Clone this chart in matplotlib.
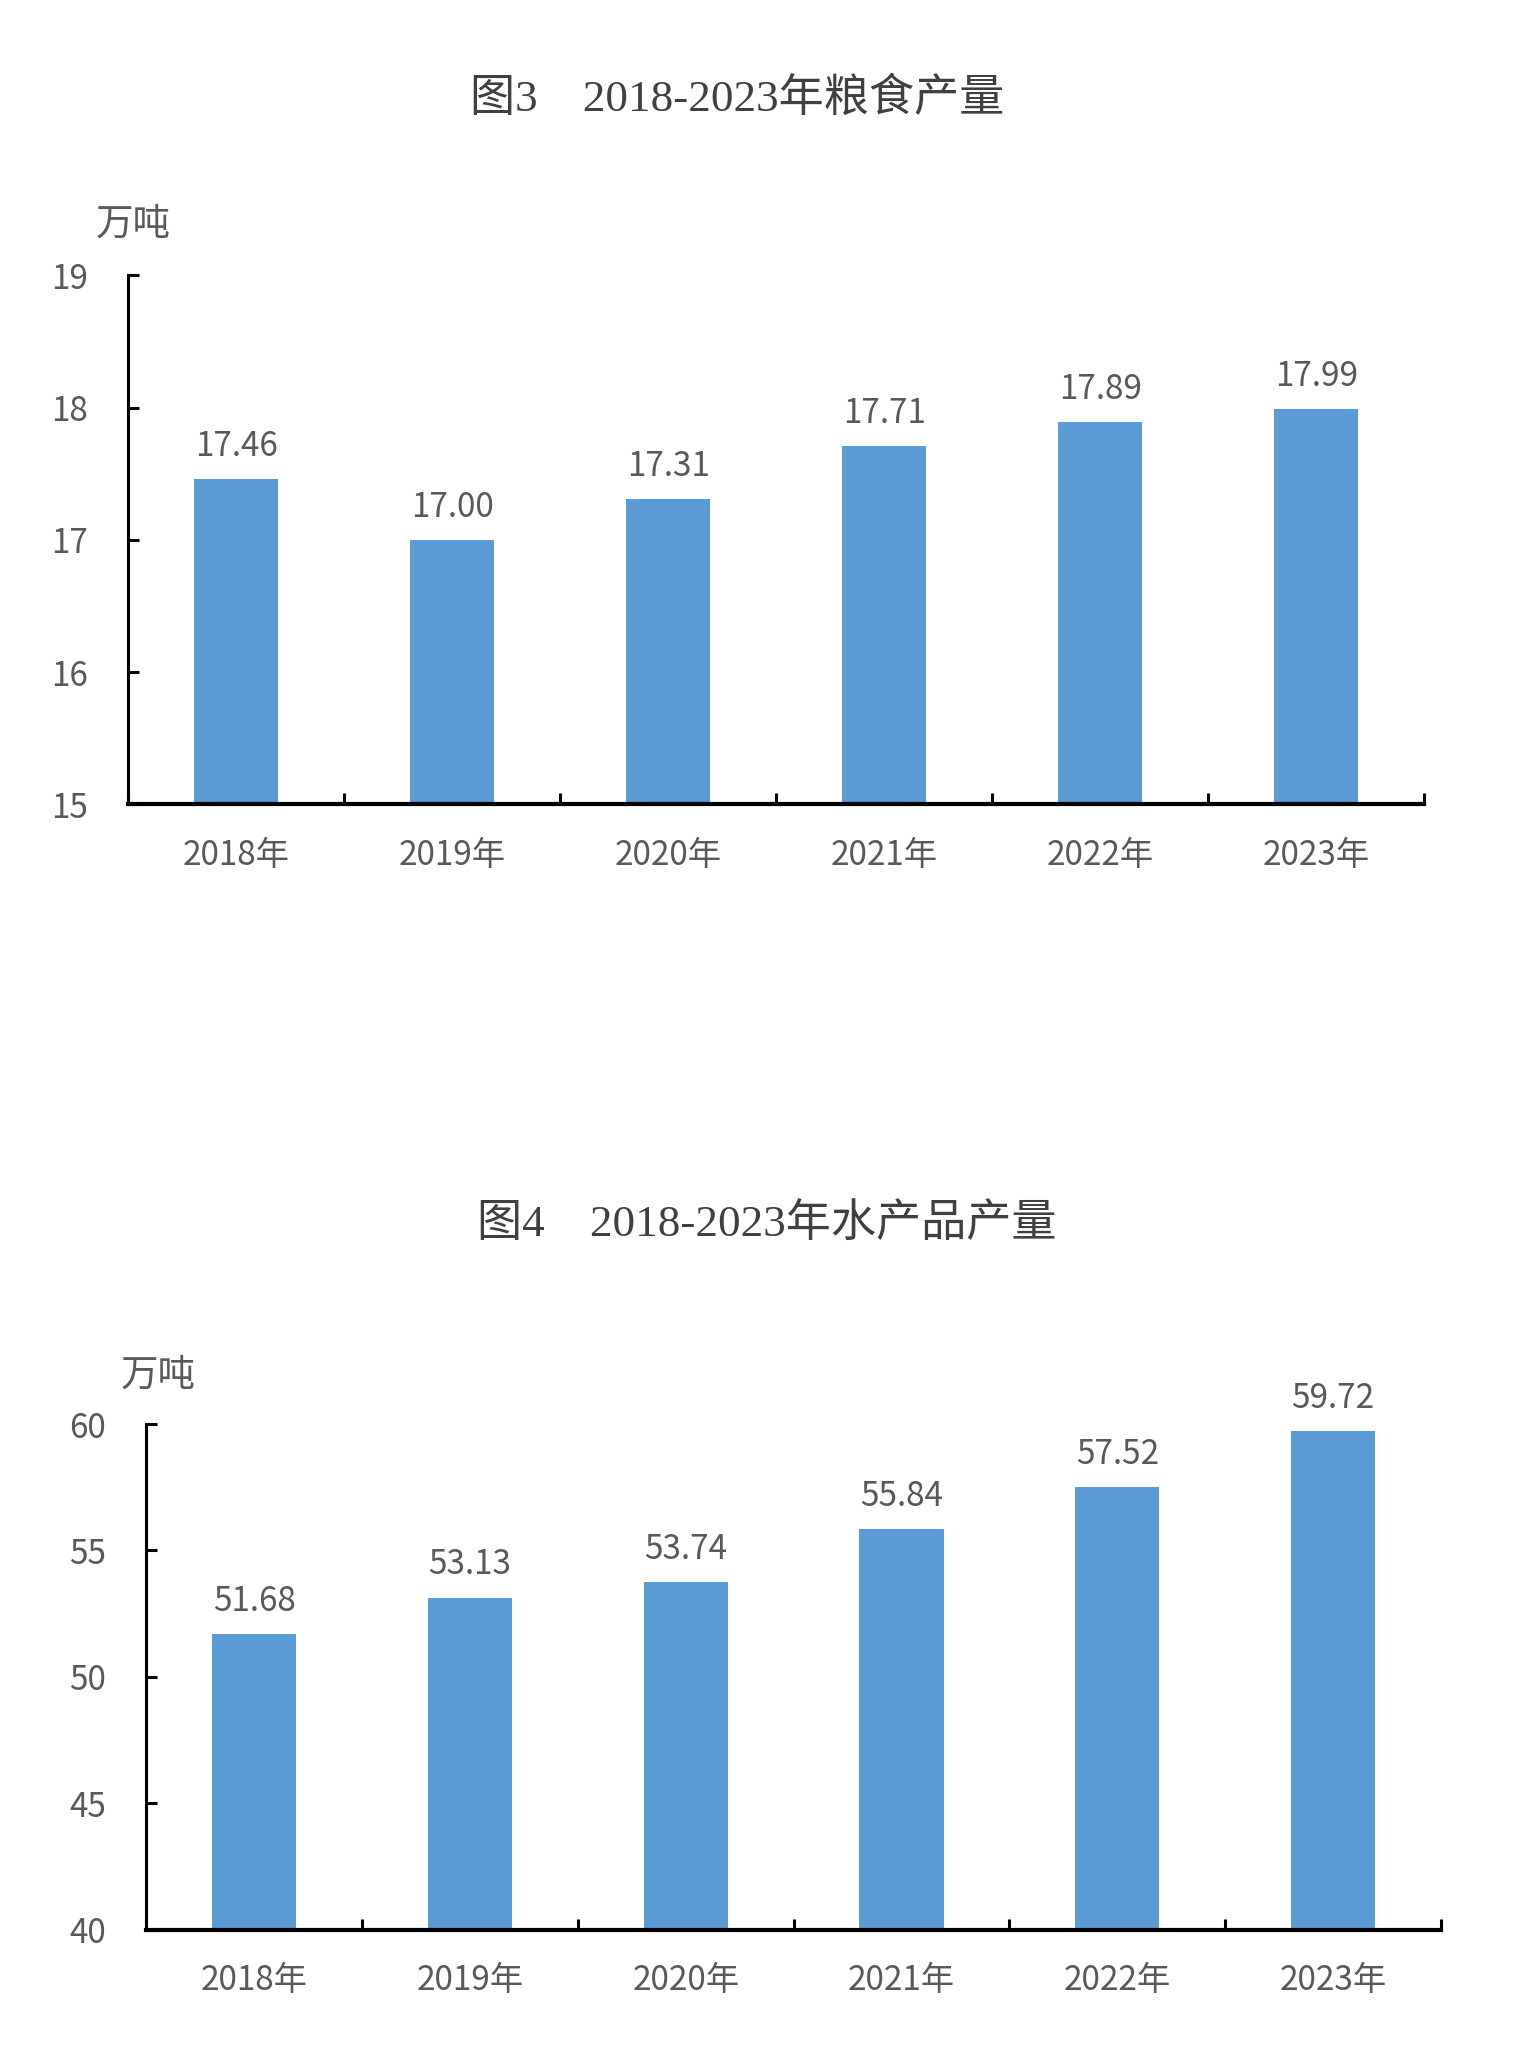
import matplotlib
matplotlib.use("Agg")
import matplotlib.pyplot as plt
import numpy as np

plt.rcParams['font.family'] = ['Noto Sans CJK SC', 'DejaVu Sans']

years = ["2018年", "2019年", "2020年", "2021年", "2022年", "2023年"]
grain = [17.46, 17.00, 17.31, 17.71, 17.89, 17.99]
aquatic = [51.68, 53.13, 53.74, 55.84, 57.52, 59.72]
title1 = "图3　2018-2023年粮食产量"
title2 = "图4　2018-2023年水产品产量"
unit = "万吨"

BAR = "#5B9BD5"
TXT = "#595959"
FS = 24

fig = plt.figure(figsize=(15.33, 20.52), dpi=100)


def draw(rect, vals, ylim, yticks, title, title_xy, unit_xy, fmt="{:.2f}"):
    ax = fig.add_axes(rect)
    x = np.arange(len(vals))
    base = ylim[0]
    ax.bar(x, np.array(vals) - base, bottom=base, width=0.39, color=BAR, zorder=2)
    ax.set_xlim(-0.5, len(vals) - 0.5)
    ax.set_ylim(*ylim)
    ax.set_yticks(yticks)
    ax.set_yticklabels([str(t) for t in yticks], fontsize=FS, color=TXT)
    ax.set_xticks(x)
    ax.set_xticklabels(years, fontsize=FS, color=TXT)
    ax.tick_params(axis='x', length=0, pad=24)
    ax.set_xticks(np.arange(len(vals) + 1) - 0.5, minor=True)
    ax.tick_params(axis='x', which='minor', direction='in', length=8, width=2.2, color='black')
    ax.tick_params(axis='y', direction='in', length=8, width=2.2, color='black', pad=29)
    for s in ['top', 'right']:
        ax.spines[s].set_visible(False)
    ax.spines['left'].set_linewidth(2.2)
    ax.spines['bottom'].set_linewidth(3)
    for xi, v in zip(x, vals):
        ax.annotate(fmt.format(v), (xi, v), xytext=(0, 11), textcoords='offset points',
                    ha='center', va='bottom', fontsize=FS, color=TXT)
    fig.text(title_xy[0], title_xy[1], title, ha='center', va='center', fontsize=32.5,
             color='#404040', family=['Liberation Serif', 'Noto Sans CJK SC'])
    fig.text(unit_xy[0], unit_xy[1], unit, ha='center', va='center', fontsize=27, color=TXT)
    return ax


draw([0.0835, 0.6080, 0.8455, 0.2578], grain, (15, 19), [15, 16, 17, 18, 19], title1,
     (0.481, 0.9521), (0.087, 0.891))
draw([0.0954, 0.0596, 0.8446, 0.2464], aquatic, (40, 60), [40, 45, 50, 55, 60], title2,
     (0.500, 0.4035), (0.103, 0.330))

fig.savefig("out.png", dpi=100, facecolor='white')
